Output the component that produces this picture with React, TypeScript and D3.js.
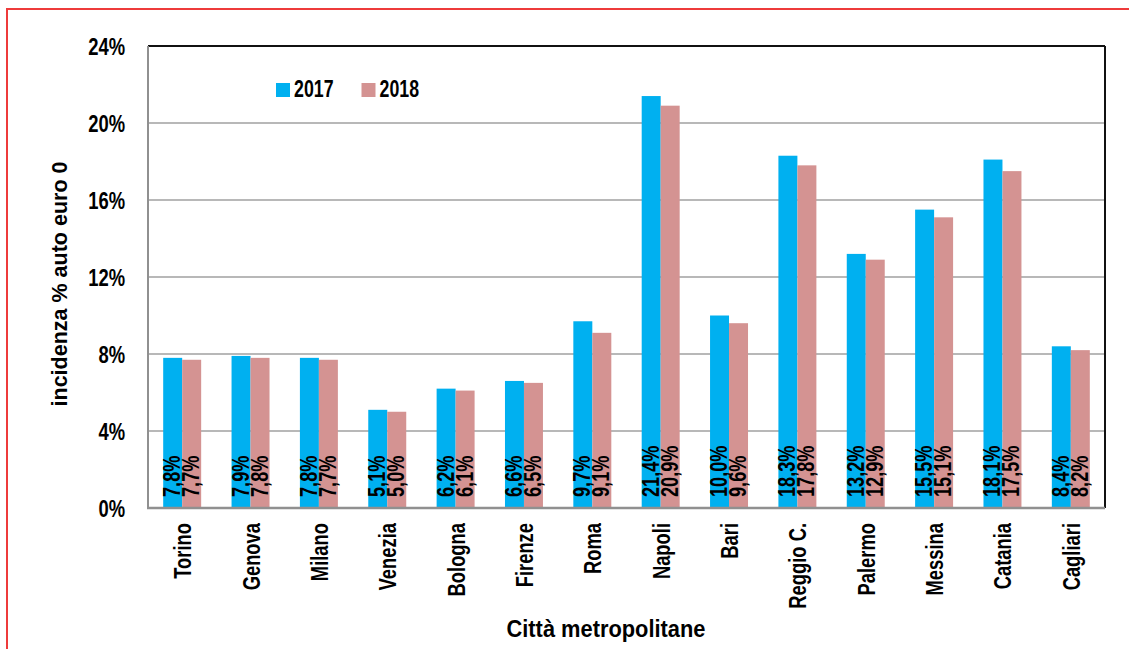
import React from "react";
import * as d3 from "d3";

const cities = ["Torino", "Genova", "Milano", "Venezia", "Bologna", "Firenze", "Roma", "Napoli", "Bari", "Reggio C.", "Palermo", "Messina", "Catania", "Cagliari"];
const years = ["2017", "2018"];
const values2017 = [7.8, 7.9, 7.8, 5.1, 6.2, 6.6, 9.7, 21.4, 10.0, 18.3, 13.2, 15.5, 18.1, 8.4];
const values2018 = [7.7, 7.8, 7.7, 5.0, 6.1, 6.5, 9.1, 20.9, 9.6, 17.8, 12.9, 15.1, 17.5, 8.2];
const yTicks = [0, 4, 8, 12, 16, 20, 24];
const colors = ["#00B0F0", "#D49392"];
const yTitle = "incidenza % auto euro 0";
const xTitle = "Città metropolitane";

const W = 1129;
const H = 649;
const M = { left: 148, right: 1105, top: 46, bottom: 508 };
const FONT = "'Liberation Sans', Arial, Helvetica, sans-serif";

const itLocale = d3.formatLocale({ decimal: ",", thousands: ".", grouping: [3], currency: ["", "€"] });
const fmt = itLocale.format(".1f");

export default function App() {
  const x0 = d3.scaleBand<string>().domain(cities).range([M.left, M.right]).padding(0);
  const x1 = d3.scaleBand<string>().domain(years).range([0, x0.bandwidth()]).paddingInner(0).paddingOuter(0.8);
  const y = d3.scaleLinear().domain([0, 24]).range([M.bottom, M.top]);
  const series = [values2017, values2018];

  return (
    <svg width={W} height={H} style={{ position: "absolute", left: 0, top: 0, background: "#fff" }} fontFamily={FONT} fontWeight="bold">
      <rect x={0} y={0} width={W} height={H} fill="#fff" />
      <rect x={7} y={9} width={W + 50} height={H + 50} fill="none" stroke="#EE3B3B" strokeWidth={2} />

      {/* gridlines */}
      {yTicks.filter((t) => t > 0 && t < 24).map((t) => (
        <line key={t} x1={M.left} x2={M.right} y1={y(t)} y2={y(t)} stroke="#A0A0A0" strokeWidth={1.5} />
      ))}

      {/* bars */}
      {cities.map((c, i) => (
        <g key={c}>
          {years.map((yr, j) => {
            const v = series[j][i];
            const bx = (x0(c) as number) + (x1(yr) as number);
            return (
              <rect key={yr} x={bx} y={y(v)} width={x1.bandwidth()} height={y(0) - y(v)} fill={colors[j]} />
            );
          })}
        </g>
      ))}

      {/* plot frame */}
      <line x1={M.left} x2={M.right} y1={M.top} y2={M.top} stroke="#111" strokeWidth={2} />
      <line x1={M.right} x2={M.right} y1={M.top} y2={M.bottom} stroke="#111" strokeWidth={2} />
      <line x1={M.left} x2={M.left} y1={M.top} y2={M.bottom + 1} stroke="#909090" strokeWidth={2} />
      <line x1={M.left - 1} x2={M.right} y1={M.bottom} y2={M.bottom} stroke="#909090" strokeWidth={2.5} />

      {/* value labels */}
      {cities.map((c, i) => (
        <g key={c}>
          {years.map((yr, j) => {
            const v = series[j][i];
            const cx = (x0(c) as number) + (x1(yr) as number) + x1.bandwidth() / 2;
            return (
              <text key={yr} transform={`translate(${cx + 7.5},${M.bottom - 11}) rotate(-90) scale(0.79,1)`} fontSize={23} fill="#000" textAnchor="start">
                {fmt(v) + "%"}
              </text>
            );
          })}
        </g>
      ))}

      {/* y tick labels */}
      {yTicks.map((t) => (
        <text key={t} transform={`translate(125,${y(t) + 8.5}) scale(0.8,1)`} fontSize={23} textAnchor="end" fill="#000">
          {t + "%"}
        </text>
      ))}

      {/* category labels */}
      {cities.map((c) => {
        const cx = (x0(c) as number) + x0.bandwidth() / 2;
        return (
          <text key={c} transform={`translate(${cx + 9},523) rotate(-90) scale(0.75,1)`} fontSize={24.5} textAnchor="end" fill="#000">
            {c}
          </text>
        );
      })}

      {/* axis titles */}
      <text transform={`translate(67,284) rotate(-90)`} fontSize={21.5} textAnchor="middle" fill="#000">{yTitle}</text>
      <text transform={`translate(606,637) scale(0.95,1)`} fontSize={23} textAnchor="middle" fill="#000">{xTitle}</text>

      {/* legend */}
      {years.map((yr, j) => {
        const lx = 276 + j * 85.5;
        return (
          <g key={yr}>
            <rect x={lx} y={83} width={14} height={14} fill={colors[j]} />
            <text transform={`translate(${lx + 18},97) scale(0.74,1)`} fontSize={24} fill="#000">{yr}</text>
          </g>
        );
      })}
    </svg>
  );
}
